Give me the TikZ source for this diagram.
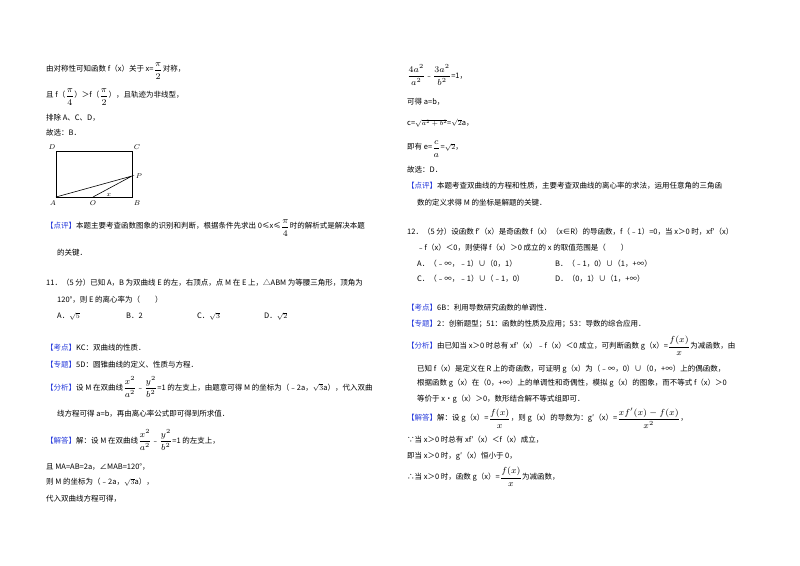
\documentclass[tikz,border=0pt]{standalone}
\usepackage{amsmath,amssymb}
\usepackage{fontspec}
\setmainfont{Noto Sans CJK SC}
\definecolor{lb}{RGB}{40,60,220}
\newcommand{\bk}[1]{\textcolor{lb}{【#1】}}
\newcommand{\fr}[2]{\raisebox{-0.2ex}{\scalebox{1.25}{$\dfrac{#1}{#2}$}}}
\begin{document}
\begin{tikzpicture}[x=1pt,y=-1pt,
  t/.style={anchor=west,inner sep=0pt,font=\fontsize{7.5}{9}\selectfont},
  lbl/.style={inner sep=0pt,font=\fontsize{7.5}{8}\selectfont}]
\useasboundingbox[fill=white] (0,0) rectangle (800,565);
% left column
\node[t] (l1) at (46,71) {由对称性可知函数 f（x）关于 x=\fr{\pi}{2}对称，};
\node[t] (l2) at (46,97) {且 f（\fr{\pi}{4}）＞f（\fr{\pi}{2}），且轨迹为非线型，};
\node[t] (l3) at (46,118) {排除 A、C、D，};
\node[t] (l4) at (46,133) {故选：B．};
% figure
\coordinate (A) at (56,197); \coordinate (B) at (132,197);
\coordinate (C) at (132,151); \coordinate (D) at (56,151);
\coordinate (P) at (132,176); \coordinate (O) at (93,197);
\draw[line width=0.6pt] (A) rectangle (C);
\draw[line width=0.6pt] (A) -- (P) -- (O);
\node[lbl] (nD) at (52,147) {$D$}; \node[lbl] (nC) at (137,147) {$C$};
\node[lbl] (nP) at (139,176) {$P$}; \node[lbl] (nA) at (53,203) {$A$};
\node[lbl] (nO) at (93,203) {$O$}; \node[lbl] (nB) at (137,203) {$B$};
\node[lbl] (nx) at (109,195) {$x$};
\node[t] (l5) at (46,228) {\bk{点评}本题主要考查函数图象的识别和判断，根据条件先求出 0≤x≤\fr{\pi}{4}时的解析式是解决本题};
\node[t] (l6) at (57,253) {的关键．};
\node[t] (l7) at (46,283) {11．（5 分）已知 A，B 为双曲线 E 的左，右顶点，点 M 在 E 上，△ABM 为等腰三角形，顶角为};
\node[t] (l8) at (57,300) {120°，则 E 的离心率为（　　）};
\node[t] (oA) at (57,316) {A．$\sqrt5$};
\node[t] (oB) at (126,316) {B．2};
\node[t] (oC) at (197,316) {C．$\sqrt3$};
\node[t] (oD) at (264,316) {D．$\sqrt2$};
\node[t] (l9) at (46,348) {\bk{考点}KC：双曲线的性质．};
\node[t] (l10) at (46,365) {\bk{专题}5D：圆锥曲线的定义、性质与方程．};
\node[t] (l11) at (46,387) {\bk{分析}设 M 在双曲线\fr{x^2}{a^2}﹣\fr{y^2}{b^2}=1 的左支上，由题意可得 M 的坐标为（﹣2a，$\sqrt3$a），代入双曲};
\node[t] (l12) at (57,414) {线方程可得 a=b，再由离心率公式即可得到所求值．};
\node[t] (l13) at (46,440) {\bk{解答}解：设 M 在双曲线\fr{x^2}{a^2}﹣\fr{y^2}{b^2}=1 的左支上，};
\node[t] (l14) at (46,467) {且 MA=AB=2a，∠MAB=120°，};
\node[t] (l15) at (46,482) {则 M 的坐标为（﹣2a，$\sqrt3$a），};
\node[t] (l16) at (46,499) {代入双曲线方程可得，};
% right column
\node[t] (r1) at (407,75) {\fr{4a^2}{a^2}﹣\fr{3a^2}{b^2}=1，};
\node[t] (r2) at (407,102) {可得 a=b，};
\node[t] (r3) at (407,123) {c=$\sqrt{a^2+b^2}$=$\sqrt2$a，};
\node[t] (r4) at (407,149) {即有 e=\fr{c}{a}=$\sqrt2$，};
\node[t] (r5) at (407,170) {故选：D．};
\node[t] (r6) at (407,186) {\bk{点评}本题考查双曲线的方程和性质，主要考查双曲线的离心率的求法，运用任意角的三角函};
\node[t] (r7) at (417,203) {数的定义求得 M 的坐标是解题的关键．};
\node[t] (r8) at (407,232) {12．（5 分）设函数 f′（x）是奇函数 f（x）（x∈R）的导函数，f（﹣1）=0，当 x＞0 时，xf′（x）};
\node[t] (r9) at (417,248) {﹣f（x）＜0，则使得 f（x）＞0 成立的 x 的取值范围是（　　）};
\node[t] (rA) at (417,264) {A．（﹣∞，﹣1）∪（0，1）};
\node[t] (rB) at (555,264) {B．（﹣1，0）∪（1，+∞）};
\node[t] (rC) at (417,279) {C．（﹣∞，﹣1）∪（﹣1，0）};
\node[t] (rD) at (555,279) {D．（0，1）∪（1，+∞）};
\node[t] (r10) at (407,308) {\bk{考点}6B：利用导数研究函数的单调性．};
\node[t] (r11) at (407,324) {\bk{专题}2：创新题型；51：函数的性质及应用；53：导数的综合应用．};
\node[t] (r12) at (407,346) {\bk{分析}由已知当 x＞0 时总有 xf′（x）﹣f（x）＜0 成立，可判断函数 g（x）=\fr{f(x)}{x}为减函数，由};
\node[t] (r13) at (417,369) {已知 f（x）是定义在 R 上的奇函数，可证明 g（x）为（﹣∞，0）∪（0，+∞）上的偶函数，};
\node[t] (r14) at (417,383) {根据函数 g（x）在（0，+∞）上的单调性和奇偶性，模拟 g（x）的图象，而不等式 f（x）＞0};
\node[t] (r15) at (417,399) {等价于 x•g（x）＞0，数形结合解不等式组即可．};
\node[t] (r16) at (407,418) {\bk{解答}解：设 g（x）=\fr{f(x)}{x}，则 g（x）的导数为：g′（x）=\fr{xf'(x)-f(x)}{x^2}，};
\node[t] (r17) at (407,440) {∵当 x＞0 时总有 xf′（x）＜f（x）成立，};
\node[t] (r18) at (407,456) {即当 x＞0 时，g′（x）恒小于 0，};
\node[t] (r19) at (407,477) {∴当 x＞0 时，函数 g（x）=\fr{f(x)}{x}为减函数，};
\end{tikzpicture}
\end{document}
